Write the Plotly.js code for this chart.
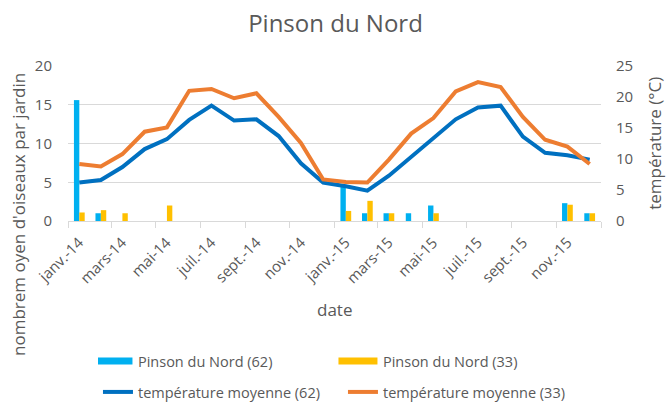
<!DOCTYPE html>
<html><head><meta charset="utf-8">
<script src="https://cdn.plot.ly/plotly-3.0.1.min.js"></script>
<style>html,body{margin:0;padding:0;background:#fff;}#chart{width:671px;height:403px;}</style>
</head><body><div id="chart"></div>
<script>
const months = ['2014-01','2014-02','2014-03','2014-04','2014-05','2014-06','2014-07','2014-08','2014-09','2014-10','2014-11','2014-12',
                '2015-01','2015-02','2015-03','2015-04','2015-05','2015-06','2015-07','2015-08','2015-09','2015-10','2015-11','2015-12'];
const pinson62 = [15.6,1.0,0,0,0,0,0,0,0,0,0,0, 4.4,1.0,1.0,1.0,2.0,0,0,0,0,0,2.3,1.0];
const pinson33 = [1.1,1.4,1.0,0,2.0,0,0,0,0,0,0,0, 1.3,2.6,1.0,0,1.0,0,0,0,0,0,2.1,1.0];
const temp62 = [6.2,6.6,8.7,11.6,13.2,16.3,18.6,16.2,16.4,13.7,9.3,6.2, 5.6,4.9,7.3,10.3,13.2,16.4,18.3,18.6,13.6,11.0,10.6,9.9];
const temp33 = [9.2,8.8,10.8,14.4,15.1,21.0,21.3,19.8,20.6,16.8,12.6,6.7, 6.3,6.2,9.9,14.1,16.6,20.9,22.4,21.6,16.8,13.1,12.0,9.2];
const tickVals = ['2014-01','2014-03','2014-05','2014-07','2014-09','2014-11','2015-01','2015-03','2015-05','2015-07','2015-09','2015-11','2016-01'];
const tickText = ['janv.-14','mars-14','mai-14','juil.-14','sept.-14','nov.-14','janv.-15','mars-15','mai-15','juil.-15','sept.-15','nov.-15',''];

const FONT = '"Open Sans", Lato, sans-serif';
const GREY = '#595959';
const GRID = '#D9D9D9';
const FS = 15;

const traces = [
  {type:'bar', name:'Pinson du Nord (62)', x:months, y:pinson62, xperiod:'M1', xperiodalignment:'middle',
   marker:{color:'#00B0F0'}, legend:'legend'},
  {type:'bar', name:'Pinson du Nord (33)', x:months, y:pinson33, xperiod:'M1', xperiodalignment:'middle',
   marker:{color:'#FFC000'}, legend:'legend'},
  {type:'scatter', mode:'lines', name:'température moyenne (62)', x:months, y:temp62, xperiod:'M1', xperiodalignment:'middle',
   yaxis:'y2', line:{color:'#0070C0', width:4}, legend:'legend2'},
  {type:'scatter', mode:'lines', name:'température moyenne (33)', x:months, y:temp33, xperiod:'M1', xperiodalignment:'middle',
   yaxis:'y2', line:{color:'#ED7D31', width:4}, legend:'legend2'}
];

const legendBase = {orientation:'h', xref:'container', yref:'container', x:0.146, xanchor:'left', yanchor:'middle',
  entrywidth:200, entrywidthmode:'pixels', font:{size:14.5, color:GREY}, bgcolor:'rgba(0,0,0,0)', borderwidth:0};

const layout = {
  width:671, height:403,
  margin:{l:68, r:70, t:66, b:182, autoexpand:false},
  paper_bgcolor:'#fff', plot_bgcolor:'#fff',
  font:{family:FONT, color:GREY, size:FS},
  title:{text:'Pinson du Nord', font:{family:FONT, size:24, color:GREY}, x:0.5, xanchor:'center', y:1-24/403, yanchor:'middle', yref:'container'},
  barmode:'group', bargap:0.5, bargroupgap:0,
  showlegend:true,
  xaxis:{type:'date', range:['2014-01-01','2016-01-01'], tickmode:'array', tickvals:tickVals, ticktext:tickText,
         tickangle:-45, ticklabelshift:11, ticks:'outside', ticklen:6, tickcolor:GRID, showline:true, linecolor:GRID,
         showgrid:false, zeroline:false, automargin:false, tickfont:{size:FS, color:GREY}},
  yaxis:{range:[0,20], dtick:5, showgrid:true, gridcolor:GRID, zeroline:false, showline:false, ticks:'', automargin:false,
         ticklabelstandoff:15, tickfont:{size:FS, color:GREY}},
  yaxis2:{range:[0,25], dtick:5, overlaying:'y', side:'right', showgrid:false, zeroline:false, showline:false, ticks:'', automargin:false,
          ticklabelstandoff:14, tickfont:{size:FS, color:GREY}},
  legend:Object.assign({}, legendBase, {y:1-361/403}),
  legend2:Object.assign({}, legendBase, {y:1-392/403}),
  annotations:[
    {text:'date', xref:'paper', yref:'paper', x:0.5, y:-0.574, xanchor:'center', yanchor:'middle', showarrow:false,
     font:{size:17, color:GREY}},
    {text:"nombrem oyen d'oiseaux par jardin", xref:'paper', yref:'paper', x:-0.094, y:0.045, xanchor:'center', yanchor:'middle',
     textangle:-90, showarrow:false, font:{size:17, color:GREY}},
    {text:'température (°C)', xref:'paper', yref:'paper', x:1.1, y:0.5, xanchor:'center', yanchor:'middle',
     textangle:-90, showarrow:false, font:{size:17, color:GREY}}
  ]
};
function restyleSwatches(gd){
  // Excel-like legend swatches: wide bands for bars, longer strokes for lines
  gd.querySelectorAll('.legendpoints path').forEach(function(p){
    var d = (p.getAttribute('d') || '').replace(/\s/g,'');
    if (/^M6,6H-6V-6H6Z$/.test(d)) p.setAttribute('d','M14.5,3.5H-24.5V-3.5H14.5Z');
    else if (/^M[\d.]+,0h[\d.]+$/.test(d)) p.setAttribute('d','M-4,0h39');
  });
}
Plotly.newPlot('chart', traces, layout, {displayModeBar:false, staticPlot:true}).then(function(gd){
  restyleSwatches(gd);
  setTimeout(function(){ restyleSwatches(gd); }, 50);
});
</script></body></html>
